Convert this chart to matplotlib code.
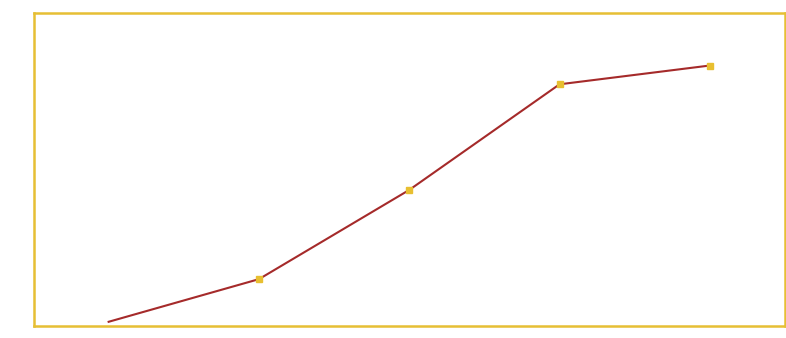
import matplotlib
matplotlib.use("Agg")
import matplotlib.pyplot as plt

categories = ["A", "B", "C", "D", "E"]
values = [1.0, 11.9, 34.7, 61.7, 66.5]

fig = plt.figure(figsize=(7.86, 3.38), dpi=100)
W, H = 786, 338
ax = fig.add_axes([33.5 / W, (H - 325.7) / H, (785 - 33.5) / W, (325.7 - 12.7) / H])

x = list(range(len(categories)))
ax.plot(x, values, color="#a52a2a", linewidth=1.5, marker="s", markersize=4.2,
        markerfacecolor="#e8bf30", markeredgecolor="#e8bf30", markevery=[1, 2, 3, 4])

ax.set_xlim(-0.5, len(categories) - 0.5)
ax.set_ylim(0, 80)
ax.set_xticks([])
ax.set_yticks([])
for s in ax.spines.values():
    s.set_color("#e6bf34")
    s.set_linewidth(1.8)

fig.savefig("out.png", dpi=100)
